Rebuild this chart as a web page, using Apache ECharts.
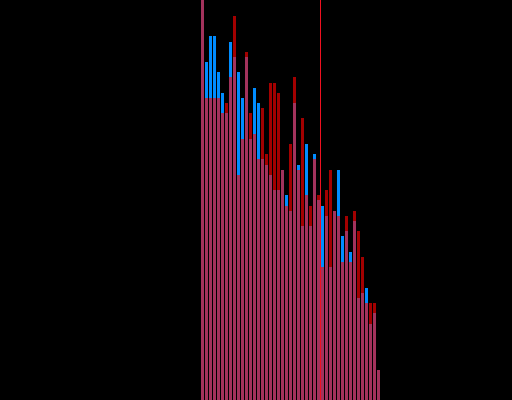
<!DOCTYPE html>
<html>
<head>
<meta charset="utf-8">
<script src="https://cdn.jsdelivr.net/npm/echarts@6/dist/echarts.min.js"></script>
<style>html,body{margin:0;padding:0;background:#000;}#c{width:512px;height:400px;}</style>
</head>
<body>
<div id="c"></div>
<script>
// bin positions (centre of each bin on the value x axis)
const bins = [0.5,1.5,2.5,3.5,4.5,5.5,6.5,7.5,8.5,9.5,10.5,11.5,12.5,13.5,14.5,15.5,16.5,17.5,18.5,19.5,20.5,21.5,22.5,23.5,24.5,25.5,26.5,27.5,28.5,29.5,30.5,31.5,32.5,33.5,34.5,35.5,36.5,37.5,38.5,39.5,40.5,41.5,42.5,43.5,44.5];
const blueValues = [400,338,364,364,328,307,287,358,343,328,302,343,261,312,297,241,235,225,210,210,230,205,189,297,235,174,256,174,246,200,194,184,133,189,230,164,169,148,179,102,107,112,76,87,30];
const redValues  = [400,302,302,302,302,287,297,323,384,225,261,348,287,266,241,292,246,317,317,307,230,194,256,323,230,282,205,194,241,205,133,210,230,189,184,138,184,138,189,169,143,97,97,97,30];
const markerBin = [30];

const chart = echarts.init(document.getElementById('c'), null, {renderer: 'canvas'});
chart.setOption({
  backgroundColor: '#000000',
  animation: false,
  grid: {left: 200.5, width: 180, top: 0, height: 400, containLabel: false},
  xAxis: {type: 'value', min: 0, max: 45, show: false},
  yAxis: {type: 'value', min: 0, max: 400, show: false},
  series: [
    {
      type: 'bar', barWidth: 3, barGap: '-100%',
      data: bins.map((b, i) => [b, blueValues[i]]),
      itemStyle: {color: 'rgb(0,140,255)'},
      markLine: {
        silent: true, symbol: 'none', label: {show: false},
        lineStyle: {color: '#f01020', width: 1, type: 'solid'},
        data: markerBin.map(v => ({xAxis: v}))
      }
    },
    {
      type: 'bar', barWidth: 3, barGap: '-100%',
      data: bins.map((b, i) => [b, redValues[i]]),
      itemStyle: {color: 'rgba(255,0,0,0.64)'}
    }
  ]
});
</script>
</body>
</html>
